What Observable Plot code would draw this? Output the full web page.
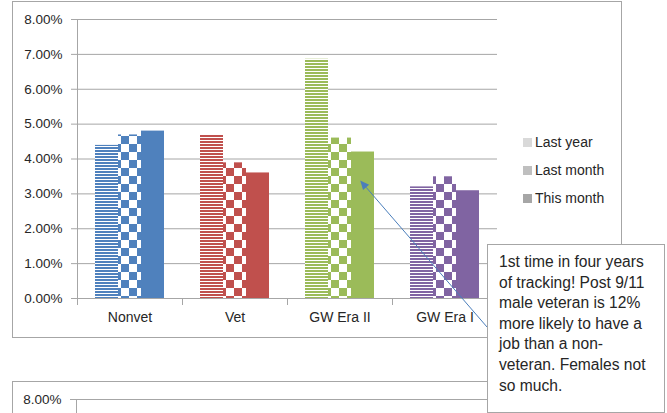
<!DOCTYPE html>
<html>
<head>
<meta charset="utf-8">
<script src="https://cdn.jsdelivr.net/npm/d3@7"></script>
<script src="https://cdn.jsdelivr.net/npm/@observablehq/plot@0.6"></script>
<style>
  html, body { margin: 0; padding: 0; background: #fff; }
  body { width: 667px; height: 413px; overflow: hidden; position: relative; font-family: "Liberation Sans", Arial, sans-serif; color: #262626; }
  .frame { position: absolute; border: 1px solid #a6a6a6; background: #fff; box-sizing: border-box; }
  .layer { position: absolute; left: 0; }
  .legend { position: absolute; left: 523px; top: 128px; font-size: 14px; }
  .legend div { height: 28px; display: flex; align-items: center; }
  .legend span.sw { display: inline-block; width: 9px; height: 9px; margin-right: 3px; }
  .note { position: absolute; left: 487px; top: 244px; width: 178px; height: 169px; box-sizing: border-box;
          border: 1px solid #a6a6a6; background: #fff; padding: 7px 4px 0 11px; font-size: 15.6px; line-height: 20.6px; z-index: 5; white-space: nowrap; }
  #arrow { position: absolute; left: 0; top: 0; z-index: 4; pointer-events: none; }
</style>
</head>
<body>
<div class="frame" style="left:12px;top:1px;width:610px;height:337px;"></div>
<div class="frame" style="left:12px;top:381px;width:610px;height:100px;"></div>
<div id="chart1" class="layer" style="top:0;"></div>
<div id="chart2" class="layer" style="top:380px;"></div>
<div class="legend" id="legend"></div>
<svg id="arrow" width="667" height="413"></svg>
<div class="note" id="note"></div>
<script>
// ---- data ----
const categories = ["Nonvet", "Vet", "GW Era II", "GW Era I"];
const series = ["Last year", "Last month", "This month"];
const lastYear  = [0.0439, 0.0469, 0.0686, 0.0320];
const lastMonth = [0.0469, 0.0389, 0.0460, 0.0349];
const thisMonth = [0.0480, 0.0360, 0.0420, 0.0309];
const yTicks = [0, 0.01, 0.02, 0.03, 0.04, 0.05, 0.06, 0.07, 0.08];
const yTicksLower = [0.08];   // only visible tick of the second (cropped) chart
const categoryColors = ["#4F81BD", "#C0504D", "#9BBB59", "#8064A2"];
const legendColors = ["#d9d9d9", "#bfbfbf", "#a6a6a6"];
const noteLines = ["1st time in four years", "of tracking! Post 9/11", "male veteran is 12%", "more likely to have a", "job than a non-", "veteran. Females not", "so much."];
const noteTarget = {cat: "GW Era II", series: "This month", value: 0.0337};

const valuesBySeries = [lastYear, lastMonth, thisMonth];
const rows = [];
categories.forEach((cat, ci) => series.forEach((s, si) => rows.push({cat, ci, series: s, si, value: valuesBySeries[si][ci]})));

const fillFor = d => d.si === 0 ? `url(#stripe-${d.ci})` : d.si === 1 ? `url(#check-${d.ci})` : categoryColors[d.ci];

const W = 667, H = 340, ML = 76, MR = 170, MT = 19, MB = 42;
const gray = "#a6a6a6";
const fmt = d3.format(".2%");

const plot1 = Plot.plot({
  width: W, height: H,
  marginLeft: ML, marginRight: MR, marginTop: MT, marginBottom: MB,
  style: {fontFamily: "Liberation Sans, Arial, sans-serif", fontSize: "13.5px", color: "#262626", background: "none", overflow: "visible"},
  fx: {domain: categories, padding: 0, label: null, axis: null},
  x: {domain: series, paddingInner: 0, paddingOuter: 0.72, axis: null},
  y: {domain: [0, 0.08], axis: null},
  color: {type: "identity"},
  marks: [
    Plot.gridY(yTicks.slice(1), {stroke: gray, strokeOpacity: 1}),
    Plot.barY(rows, {fx: "cat", x: "series", y: "value", fill: fillFor}),
    Plot.ruleY([0], {stroke: gray}),
    Plot.frame({anchor: "left", facetAnchor: "left", stroke: gray}),
    Plot.frame({anchor: "left", stroke: gray, insetTop: H - MT - MB, insetBottom: -6}),
    Plot.frame({anchor: "right", stroke: gray, insetTop: H - MT - MB, insetBottom: -6}),
    Plot.axisY(yTicks, {tickFormat: fmt, tickSize: 6, tickPadding: 9, stroke: gray, fill: "#262626", label: null, fontSize: 13.5}),
    Plot.axisFx({anchor: "bottom", tickSize: 0, tickPadding: 14, label: null, fontSize: 14, fill: "#262626"})
  ]
});

const defs = d3.select(plot1).insert("defs", ":first-child");
categoryColors.forEach((c, i) => {
  const s = defs.append("pattern").attr("id", `stripe-${i}`).attr("patternUnits", "userSpaceOnUse").attr("width", 8).attr("height", 3);
  s.append("rect").attr("width", 8).attr("height", 3).attr("fill", "#fff");
  s.append("rect").attr("width", 8).attr("height", 2).attr("fill", c);
  const k = defs.append("pattern").attr("id", `check-${i}`).attr("patternUnits", "userSpaceOnUse").attr("width", 16).attr("height", 16);
  k.append("rect").attr("width", 16).attr("height", 16).attr("fill", "#fff");
  k.append("rect").attr("width", 8).attr("height", 8).attr("fill", c);
  k.append("rect").attr("x", 8).attr("y", 8).attr("width", 8).attr("height", 8).attr("fill", c);
});
document.getElementById("chart1").appendChild(plot1);

// second (partially visible) chart
const plot2 = Plot.plot({
  width: W, height: H,
  marginLeft: ML, marginRight: MR, marginTop: MT, marginBottom: MB,
  style: {fontFamily: "Liberation Sans, Arial, sans-serif", fontSize: "13.5px", color: "#262626", background: "none", overflow: "visible"},
  x: {domain: categories, axis: null},
  y: {domain: [0, 0.08], axis: null},
  marks: [
    Plot.gridY(yTicksLower, {stroke: gray, strokeOpacity: 1}),
    Plot.frame({anchor: "left", stroke: gray}),
    Plot.axisY(yTicksLower, {tickFormat: fmt, tickSize: 6, tickPadding: 9, stroke: gray, fill: "#262626", label: null, fontSize: 13.5})
  ]
});
document.getElementById("chart2").appendChild(plot2);

// legend
const lg = d3.select("#legend");
series.forEach((s, i) => {
  const row = lg.append("div");
  row.append("span").attr("class", "sw").style("background", legendColors[i]);
  row.append("span").text(s);
});

// note text
const note = d3.select("#note");
noteLines.forEach(l => note.append("div").text(l));

// arrow annotation, tip located through the plot's scales
const fxS = plot1.scale("fx"), xS = plot1.scale("x"), yS = plot1.scale("y");
const tipX = fxS.apply(noteTarget.cat) + (xS.apply(noteTarget.series) - xS.range[0]) + xS.bandwidth * 0.4;
const tipY = yS.apply(noteTarget.value);
const tailX = 487, tailY = 327;
const a = d3.select("#arrow");
const ang = Math.atan2(tipY - tailY, tipX - tailX);
const hl = 9, hw = 4;
const bx = tipX - hl * Math.cos(ang), by = tipY - hl * Math.sin(ang);
a.append("line").attr("x1", tailX).attr("y1", tailY).attr("x2", bx).attr("y2", by).attr("stroke", "#4A7EBB").attr("stroke-width", 1);
a.append("path").attr("d", `M${tipX},${tipY}L${bx + hw * Math.sin(ang)},${by - hw * Math.cos(ang)}L${bx - hw * Math.sin(ang)},${by + hw * Math.cos(ang)}Z`).attr("fill", "#4A7EBB");
</script>
</body>
</html>
